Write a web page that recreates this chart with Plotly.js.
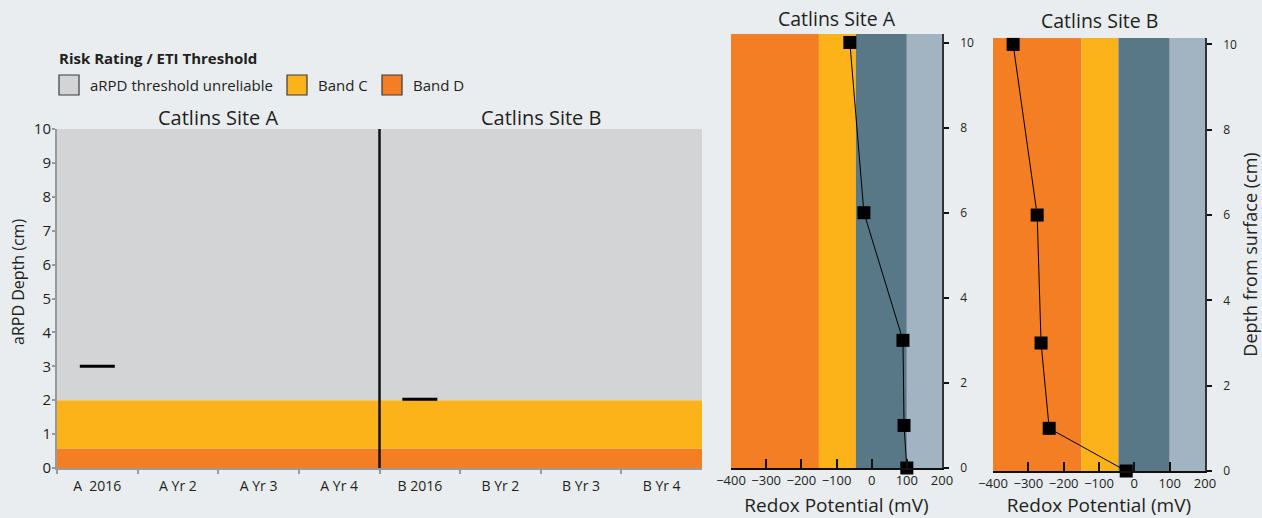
<!DOCTYPE html>
<html>
<head>
<meta charset="utf-8">
<script src="https://cdn.plot.ly/plotly-3.0.1.min.js"></script>
<style>html,body{margin:0;padding:0;background:#e9edf0;}#chart{width:1262px;height:518px;}</style>
</head>
<body>
<div id="chart"></div>
<script>
// ---------- DATA ----------
const categories = ['A\u00a0\u00a02016', 'A Yr 2', 'A Yr 3', 'A Yr 4', 'B 2016', 'B Yr 2', 'B Yr 3', 'B Yr 4'];
const arpdDepth = [3.0, null, null, null, 2.03, null, null, null];
const siteTitles = ['Catlins Site A', 'Catlins Site B'];

// risk bands on aRPD chart (cm)
const riskBandNames = ['Band D', 'Band C', 'aRPD threshold unreliable'];
const riskBandLower = [0, 0.57, 2];
const riskBandUpper = [0.57, 2, 10];
const riskBandColors = ['#f37e24', '#fcb31a', '#d3d4d6'];
const legendOrder = ['aRPD threshold unreliable', 'Band C', 'Band D'];

// redox profiles
const redoxDepth = [0, 1, 3, 6, 10];
const siteARedox = [100, 92, 89, -22, -62];
const siteBRedox = [-23, -241, -264, -275, -343];
const redoxBandEdges = [-400, -150, -45, 100, 200];
const redoxBandColors = ['#f37e24', '#fcb31a', '#587787', '#a2b4c1'];
const redoxTicks = [-400, -300, -200, -100, 0, 100, 200];
const depthTicks = [0, 2, 4, 6, 8, 10];

// ---------- LAYOUT HELPERS ----------
const W = 1262, H = 518;
const px = v => v / W;
const py = v => 1 - v / H;
const FONT = 'Open Sans, sans-serif';
const TXT = '#231f20';

const shapes = [];
const annotations = [];

// risk bands
for (let i = 0; i < riskBandLower.length; i++) {
  shapes.push({type: 'rect', xref: 'x domain', yref: 'y', x0: 0, x1: 1,
    y0: riskBandLower[i], y1: riskBandUpper[i], fillcolor: riskBandColors[i],
    line: {width: 0}, layer: 'below'});
}
// site divider
shapes.push({type: 'line', xref: 'x', yref: 'y', x0: 3.5, x1: 3.5, y0: 0, y1: 10,
  line: {color: '#111', width: 2.5}});

// redox bands for both sites
[['x2', 'y2'], ['x3', 'y3']].forEach(([xr, yr]) => {
  for (let i = 0; i < redoxBandColors.length; i++) {
    shapes.push({type: 'rect', xref: xr, yref: yr + ' domain', x0: redoxBandEdges[i], x1: redoxBandEdges[i + 1],
      y0: 0, y1: 1, fillcolor: redoxBandColors[i], line: {width: 0}, layer: 'below'});
  }
});

// legend (custom)
annotations.push({xref: 'paper', yref: 'paper', x: px(57), y: py(58), xanchor: 'left', yanchor: 'middle',
  text: '<b>Risk Rating / ETI Threshold</b>', showarrow: false, font: {family: FONT, size: 15, color: TXT}});
const legendBoxX = [59, 287, 382];
legendOrder.forEach((name, k) => {
  const idx = riskBandNames.indexOf(name);
  const bx = legendBoxX[k];
  shapes.push({type: 'rect', xref: 'paper', yref: 'paper', x0: px(bx), x1: px(bx + 20), y0: py(95), y1: py(75),
    fillcolor: riskBandColors[idx], line: {color: '#3a3a3a', width: 1.2}});
  annotations.push({xref: 'paper', yref: 'paper', x: px(bx + 29), y: py(85), xanchor: 'left', yanchor: 'middle',
    text: name, showarrow: false, font: {family: FONT, size: 15, color: TXT}});
});

// y-axis title of the aRPD chart
annotations.push({xref: 'paper', yref: 'paper', x: px(18), y: py(282), xanchor: 'center', yanchor: 'middle',
  textangle: -90, text: 'aRPD Depth (cm)', showarrow: false, font: {family: FONT, size: 16, color: TXT}});

// site titles on left chart
annotations.push({xref: 'x', yref: 'paper', x: 1.5, y: py(117), yanchor: 'middle', text: siteTitles[0],
  showarrow: false, font: {family: FONT, size: 20, color: TXT}});
annotations.push({xref: 'x', yref: 'paper', x: 5.5, y: py(117), yanchor: 'middle', text: siteTitles[1],
  showarrow: false, font: {family: FONT, size: 20, color: TXT}});
// redox chart titles
annotations.push({xref: 'x2 domain', yref: 'paper', x: 0.5, y: py(18), yanchor: 'middle', text: siteTitles[0],
  showarrow: false, font: {family: FONT, size: 19.5, color: TXT}});
annotations.push({xref: 'x3 domain', yref: 'paper', x: 0.5, y: py(20), yanchor: 'middle', text: siteTitles[1],
  showarrow: false, font: {family: FONT, size: 19.5, color: TXT}});

const traces = [
  {type: 'scatter', mode: 'markers', x: categories, y: arpdDepth, xaxis: 'x', yaxis: 'y',
    marker: {symbol: 'line-ew', size: 25, color: '#000', line: {color: '#000', width: 3}},
    showlegend: false, hoverinfo: 'x+y'},
  {type: 'scatter', mode: 'lines+markers', x: siteARedox, y: redoxDepth, xaxis: 'x2', yaxis: 'y2',
    line: {color: '#000', width: 1}, marker: {symbol: 'square', size: 13, color: '#000'},
    showlegend: false, cliponaxis: false},
  {type: 'scatter', mode: 'lines+markers', x: siteBRedox, y: redoxDepth, xaxis: 'x3', yaxis: 'y3',
    line: {color: '#000', width: 1}, marker: {symbol: 'square', size: 13, color: '#000'},
    showlegend: false, cliponaxis: false}
];

const redoxX = (dom) => ({
  domain: dom, range: [-400, 200], tickmode: 'array', tickvals: redoxTicks,
  ticks: 'inside', ticklen: 9, tickwidth: 1.5, tickcolor: '#111',
  showline: true, linecolor: '#111', linewidth: 1.5, showgrid: false, zeroline: false,
  tickfont: {family: FONT, size: 13, color: TXT},
  title: {text: 'Redox Potential (mV)', font: {family: FONT, size: 19, color: TXT}, standoff: 12}
});
const redoxY = (dom, anchor, rng, title) => ({
  domain: dom, range: rng, anchor: anchor, side: 'right', tickmode: 'array', tickvals: depthTicks,
  ticks: 'outside', ticklen: 5, tickwidth: 1.5, tickcolor: '#111',
  showline: true, linecolor: '#333', linewidth: 1.5, showgrid: false, zeroline: false,
  tickfont: {family: FONT, size: 12, color: TXT}, ticklabelstandoff: 9,
  title: title ? {text: title, font: {family: FONT, size: 18, color: TXT}, standoff: 9} : undefined
});

const layout = {
  width: W, height: H,
  margin: {l: 0, r: 0, t: 0, b: 0},
  paper_bgcolor: '#e9edf0', plot_bgcolor: 'rgba(0,0,0,0)',
  showlegend: false,
  font: {family: FONT, color: TXT},
  xaxis: {
    domain: [px(57), px(702)], type: 'category', categoryorder: 'array', categoryarray: categories,
    range: [-0.5, 7.5], tickson: 'boundaries', ticks: 'outside', ticklen: 4, tickcolor: '#999', tickwidth: 1.5,
    showline: true, linecolor: '#999', linewidth: 2, showgrid: false, zeroline: false,
    tickfont: {family: FONT, size: 14, color: TXT}, anchor: 'y', ticklabelstandoff: 4
  },
  yaxis: {
    domain: [py(468), py(129)], range: [0, 10], dtick: 1, tick0: 0,
    ticks: 'outside', ticklen: 3, tickcolor: '#999', tickwidth: 1.5,
    showline: true, linecolor: '#999', linewidth: 2, showgrid: false, zeroline: false,
    tickfont: {family: FONT, size: 15, color: TXT}, anchor: 'x', ticklabelstandoff: -2
  },
  xaxis2: Object.assign(redoxX([px(731), px(942)]), {anchor: 'y2'}),
  yaxis2: redoxY([py(468), py(34)], 'x2', [0, 10.2], null),
  xaxis3: Object.assign(redoxX([px(993), px(1205)]), {anchor: 'y3'}),
  yaxis3: redoxY([py(471), py(38)], 'x3', [0, 10.15], 'Depth from surface (cm)'),
  shapes: shapes,
  annotations: annotations
};

Plotly.newPlot('chart', traces, layout, {displayModeBar: false, responsive: false});
</script>
</body>
</html>
